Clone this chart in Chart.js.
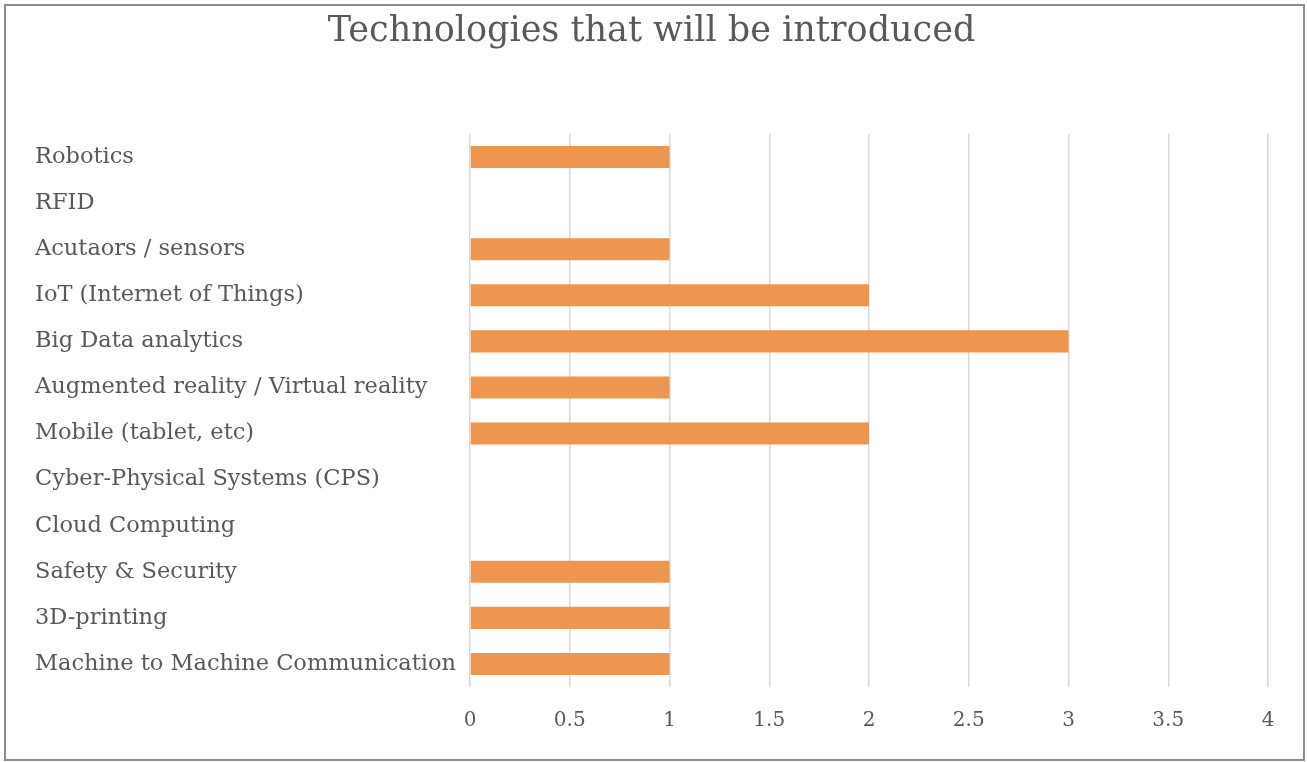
<!DOCTYPE html>
<html lang="en">
<head>
    <meta charset="UTF-8">
    <title>Technologies that will be introduced</title>
    <script src="https://cdn.jsdelivr.net/npm/chart.js"></script>
    <style>
        html, body {
            margin: 0;
            padding: 0;
            background: #ffffff;
        }

        #wrap {
            position: relative;
            width: 1307px;
            height: 762px;
        }

        /* marco gris alrededor del gráfico */
        #frame {
            position: absolute;
            left: 4px;
            top: 4px;
            width: 1297px;
            height: 753px;
            border: 2px solid #8c8c8c;
            pointer-events: none;
        }

        canvas {
            position: absolute;
            left: 0;
            top: 0;
        }
    </style>
</head>
<body>

<div id="wrap">
    <canvas id="techChart" width="1307" height="762"></canvas>
    <div id="frame"></div>
</div>

<script>
    // Datos del gráfico
    const categories = [
        'Robotics',
        'RFID',
        'Acutaors / sensors',
        'IoT (Internet of Things)',
        'Big Data analytics',
        'Augmented reality / Virtual reality',
        'Mobile (tablet, etc)',
        'Cyber-Physical Systems (CPS)',
        'Cloud Computing',
        'Safety & Security',
        '3D-printing',
        'Machine to Machine Communication'
    ];
    const counts = [1, 0, 1, 2, 3, 1, 2, 0, 0, 1, 1, 1];
    const xTicks = [0, 0.5, 1, 1.5, 2, 2.5, 3, 3.5, 4];

    const fontFamily = '"DejaVu Serif", serif';
    const textColor = '#595959';

    const ctx = document.getElementById('techChart').getContext('2d');
    const techChart = new Chart(ctx, {
        type: 'bar',
        data: {
            labels: categories,
            datasets: [{
                data: counts,
                backgroundColor: '#ee9550',
                barPercentage: 0.48,
                categoryPercentage: 1
            }]
        },
        options: {
            indexAxis: 'y',
            responsive: false,
            animation: false,
            layout: {
                padding: { left: 35, right: 39, top: 0, bottom: 7 }
            },
            plugins: {
                legend: { display: false },
                tooltip: { enabled: false },
                title: {
                    display: true,
                    text: 'Technologies that will be introduced',
                    color: textColor,
                    font: { family: fontFamily, size: 35, weight: 'normal' },
                    padding: { top: 11, bottom: 81 }
                }
            },
            scales: {
                x: {
                    min: 0,
                    max: 4,
                    afterBuildTicks: (axis) => {
                        axis.ticks = xTicks.map(v => ({ value: v }));
                    },
                    grid: {
                        color: '#d9d9d9',
                        lineWidth: 1.5,
                        drawTicks: false
                    },
                    border: { display: false },
                    ticks: {
                        color: textColor,
                        padding: 22,
                        font: { family: fontFamily, size: 20 },
                        callback: (value) => String(value)
                    }
                },
                y: {
                    grid: { display: false },
                    border: { display: false },
                    afterFit: (axis) => {
                        axis.width = 435;
                    },
                    ticks: {
                        color: textColor,
                        crossAlign: 'far',
                        autoSkip: false,
                        font: { family: fontFamily, size: 22.5 }
                    }
                }
            }
        }
    });
</script>

</body>
</html>
